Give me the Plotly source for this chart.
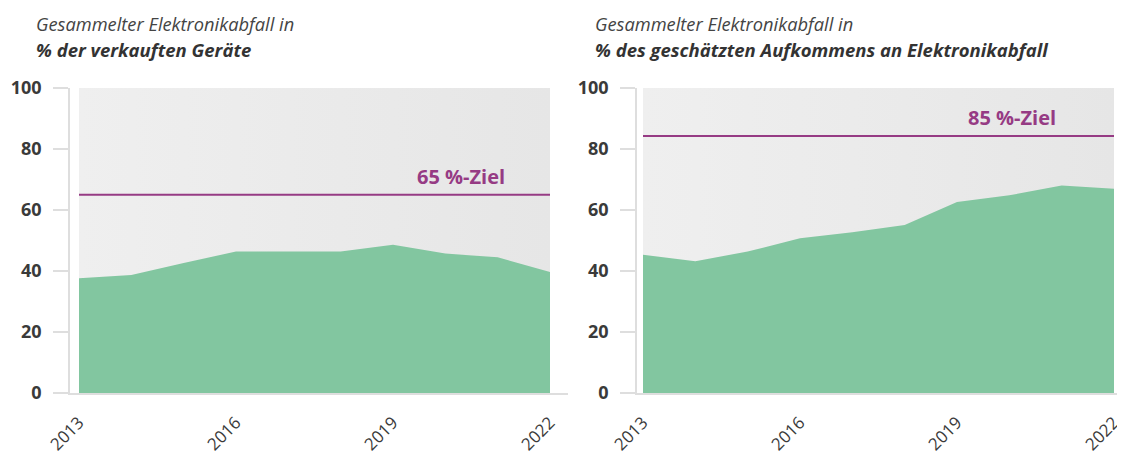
import plotly.graph_objects as go

# Data
years = [2013, 2014, 2015, 2016, 2017, 2018, 2019, 2020, 2021, 2022]
share_of_sold = [37.6, 38.7, 42.6, 46.4, 46.4, 46.4, 48.6, 45.7, 44.5, 39.7]
share_of_generated = [45.3, 43.2, 46.4, 50.7, 52.7, 55.1, 62.6, 64.8, 68.0, 67.0]
target_sold = 65
target_generated = 84.3
target_labels = ["65 %-Ziel", "85 %-Ziel"]
x_ticks = [2013, 2016, 2019, 2022]
y_ticks = [0, 20, 40, 60, 80, 100]
title_line1 = "Gesammelter Elektronikabfall in"
title_line2 = ["% der verkauften Geräte", "% des geschätzten Aufkommens an Elektronikabfall"]

W, H = 1125, 455
OFF = 8  # default page body margin
GREEN = "#82c6a0"
PURPLE = "#963b84"
AXIS = "#dedede"
TEXT = "#3a3a3a"
FONT = "Open Sans"


def px_x(p):
    return (p - OFF) / W


def px_y(p):
    return 1 - (p - OFF) / H


fig = go.Figure()

panels = [
    ("x", "y", share_of_sold, target_sold, target_labels[0], 2020.3),
    ("x2", "y2", share_of_generated, target_generated, target_labels[1], 2020.05),
]

for xa, ya, values, target, label, label_x in panels:
    # gray gradient background over the data range
    fig.add_trace(go.Scatter(
        x=[years[0], years[-1], years[-1], years[0], years[0]],
        y=[y_ticks[0], y_ticks[0], y_ticks[-1], y_ticks[-1], y_ticks[0]],
        fill="toself", mode="none",
        fillgradient=dict(type="horizontal",
                          colorscale=[[0, "#efefef"], [1, "#e6e6e6"]]),
        xaxis=xa, yaxis=ya, hoverinfo="skip", showlegend=False,
    ))
    # collected share area
    fig.add_trace(go.Scatter(
        x=years, y=values, fill="tozeroy", mode="none",
        fillcolor=GREEN, xaxis=xa, yaxis=ya, showlegend=False,
        hovertemplate="%{x}: %{y:.1f} %<extra></extra>",
    ))
    # target line
    fig.add_trace(go.Scatter(
        x=[years[0], years[-1]], y=[target, target], mode="lines",
        line=dict(color=PURPLE, width=2), xaxis=xa, yaxis=ya,
        hoverinfo="skip", showlegend=False,
    ))
    fig.add_annotation(
        x=label_x, y=target, xref=xa, yref=ya, text=f"<b>{label}</b>",
        showarrow=False, xanchor="center", yanchor="bottom", yshift=3,
        font=dict(family=FONT, size=20, color=PURPLE),
    )

# panel titles
for x_px, line2 in zip([37, 596], title_line2):
    fig.add_annotation(
        x=px_x(x_px), y=px_y(24), xref="paper", yref="paper",
        text=f"<i>{title_line1}</i>", showarrow=False,
        xanchor="left", yanchor="middle", xshift=-3,
        font=dict(family=FONT, size=18.3, color="#444444"),
    )
    fig.add_annotation(
        x=px_x(x_px), y=px_y(49), xref="paper", yref="paper",
        text=f"<b><i>{line2}</i></b>", showarrow=False,
        xanchor="left", yanchor="middle", xshift=-3,
        font=dict(family=FONT, size=18.5, color="#333333"),
    )

ppy = 471 / 9  # pixels per year


def xaxis_cfg(left_px, right_px, first_px, anchor):
    return dict(
        domain=[px_x(left_px), min(px_x(right_px), 1)],
        range=[years[0] - (first_px - left_px) / ppy,
               years[0] + (right_px - first_px) / ppy],
        anchor=anchor, tickvals=x_ticks, ticks="", tickangle=-45,
        showgrid=False, zeroline=False, showline=True,
        linecolor=AXIS, linewidth=2, automargin=False, ticklabelstandoff=11,
        tickfont=dict(family=FONT, size=17, color=TEXT),
    )


def yaxis_cfg(anchor):
    return dict(
        domain=[px_y(393), px_y(88)], range=[0, 100], anchor=anchor,
        tickvals=y_ticks, ticks="outside", ticklen=15, tickwidth=1.5,
        tickcolor=AXIS, showgrid=False, zeroline=False, showline=True,
        linecolor=AXIS, linewidth=1.5, ticklabelstandoff=8, automargin=False,
        tickfont=dict(family=FONT, size=18, color=TEXT, weight="bold"),
    )


fig.update_layout(
    width=W, height=H,
    margin=dict(l=0, r=0, t=0, b=0),
    paper_bgcolor="white", plot_bgcolor="white",
    xaxis=xaxis_cfg(70, 568, 79, "y"),
    yaxis=yaxis_cfg("x"),
    xaxis2=xaxis_cfg(637, 1125, 643, "y2"),
    yaxis2=yaxis_cfg("x2"),
    font=dict(family=FONT, color=TEXT),
    showlegend=False,
)

fig.write_html("out.html")
